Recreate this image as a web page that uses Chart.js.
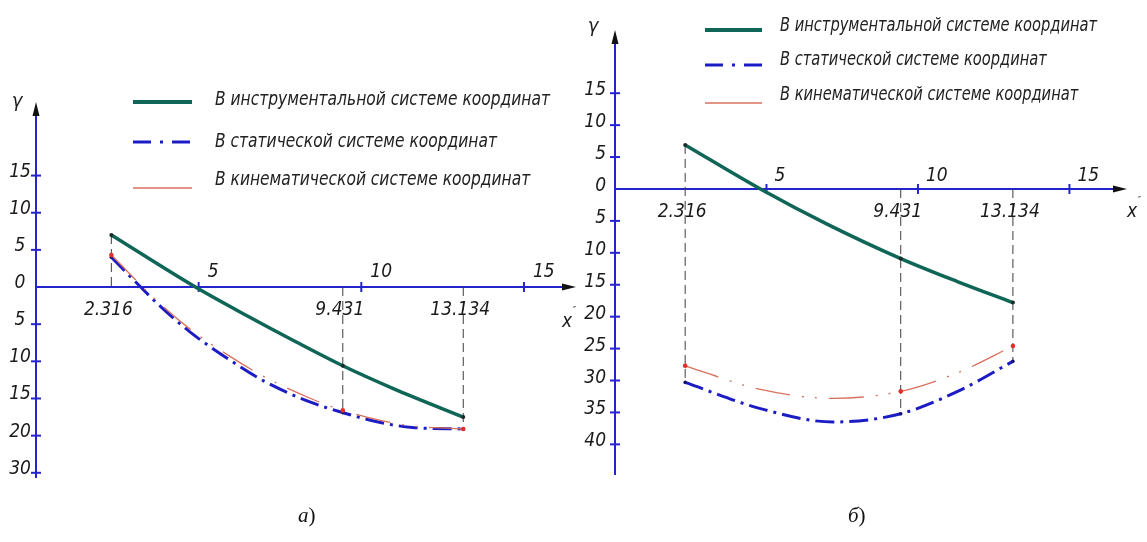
<!DOCTYPE html>
<html><head><meta charset="utf-8">
<script src="https://cdn.jsdelivr.net/npm/chart.js@4.4.1/dist/chart.umd.min.js"></script>
<style>
html,body{margin:0;padding:0;background:#fff;}
body{width:1147px;height:542px;position:relative;overflow:hidden;}
canvas{position:absolute;top:0;}
#cA{left:0;} #cB{left:575px;}
.cap{position:absolute;top:503px;font-family:"Liberation Serif","Times New Roman",serif;font-size:21px;color:#111;}
.cap i{font-style:italic;}
</style></head><body>
<canvas id="cA" width="580" height="542"></canvas>
<canvas id="cB" width="572" height="542"></canvas>
<div class="cap" style="left:298px"><i>а</i>)</div>
<div class="cap" style="left:848px"><i>б</i>)</div>
<script>
// ---- data ----
const seriesNames = ['В инструментальной системе координат', 'В статической системе координат', 'В кинематической системе координат'];
const markX = [2.316, 9.431, 13.134];
const markLabels = ['2.316', '9.431', '13.134'];
const xTicks = [5, 10, 15];
const xTickLabels = ['5', '10', '15'];

// panel а
const aYTicks = [15, 10, 5, 0, -5, -10, -15, -20, -25];
const aYTickLabels = ['15', '10', '5', '0', '5', '10', '15', '20', '30'];
const aInstrX = [2.316, 4.9, 6.5, 8.0, 9.431, 11.0, 13.134];
const aInstrY = [7.0, 0, -3.9, -7.4, -10.6, -13.7, -17.5];
const aStatX = [2.316, 3.8, 4.72, 5.95, 7.07, 8.5, 9.431, 10.55, 11.57, 13.134];
const aStatY = [4.0, -2.5, -6.0, -9.8, -12.8, -15.6, -16.9, -18.2, -18.9, -19.1];
const aKinX = [2.316, 3.8, 4.72, 5.95, 7.07, 8.5, 9.431, 10.55, 11.57, 13.134];
const aKinY = [4.3, -2.2, -5.6, -9.3, -12.2, -15.1, -16.6, -17.9, -18.7, -19.1];

// panel б
const bYTicks = [15, 10, 5, 0, -5, -10, -15, -20, -25, -30, -35, -40];
const bYTickLabels = ['15', '10', '5', '0', '5', '10', '15', '20', '25', '30', '35', '40'];
const bInstrX = [2.316, 4.8, 7.0, 9.431, 11.3, 13.134];
const bInstrY = [6.9, 0, -5.5, -10.9, -14.5, -17.8];
const bStatX = [2.316, 4.8, 7.2, 9.431, 11.4, 13.134];
const bStatY = [-30.3, -34.4, -36.5, -35.2, -31.5, -27.0];
const bKinX = [2.316, 4.8, 7.2, 9.431, 11.4, 13.134];
const bKinY = [-27.7, -31.4, -32.8, -31.7, -28.6, -24.6];

// ---- styles ----
const AXIS = '#2424cf';
const GREEN = '#0f6656';
const BLUE = '#1c1cc4';
const RED = '#d8705e';
const FONT = '"Liberation Sans Narrow","DejaVu Sans Condensed","Liberation Sans",sans-serif';

function pts(xs, ys) { return xs.map((x, i) => ({x: x, y: ys[i]})); }
function isMark(c) { return c.raw && markX.indexOf(c.raw.x) >= 0; }

function buildDatasets(p) {
  const series = [[p.instrX, p.instrY], [p.statX, p.statY], [p.kinX, p.kinY]];
  const guides = markX.map(mx => {
    const vals = [0];
    series.forEach(([xs, ys]) => { const i = xs.indexOf(mx); if (i >= 0) vals.push(ys[i]); });
    return {data: [{x: mx, y: Math.max(...vals)}, {x: mx, y: Math.min(...vals)}],
      borderColor: '#3c3c3c', borderWidth: 1, borderDash: [9, 5], pointRadius: 0, showLine: true, order: 10};
  });
  return guides.concat([
    {data: pts(p.instrX, p.instrY), borderColor: GREEN, borderWidth: 3.5, showLine: true,
     cubicInterpolationMode: 'monotone', pointRadius: c => isMark(c) ? 2 : 0,
     pointBackgroundColor: '#1b2b26', pointBorderWidth: 0, order: 3},
    {data: pts(p.statX, p.statY), borderColor: BLUE, borderWidth: 3, borderDash: [19, 6, 3, 6], showLine: true,
     cubicInterpolationMode: 'monotone', pointRadius: c => isMark(c) ? 1.8 : 0,
     pointBackgroundColor: '#14146e', pointBorderWidth: 0, order: 2},
    {data: pts(p.kinX, p.kinY), borderColor: RED, borderWidth: 1.3, borderDash: [35, 12, 2, 11, 2, 12], showLine: true,
     cubicInterpolationMode: 'monotone', pointRadius: c => isMark(c) ? 2.3 : 0,
     pointBackgroundColor: '#e0302a', pointBorderWidth: 0, order: 1}
  ]);
}

function drawLegend(ctx, L) {
  ctx.save();
  ctx.lineCap = 'butt';
  ctx.strokeStyle = GREEN; ctx.lineWidth = 4; ctx.setLineDash([]);
  ctx.beginPath(); ctx.moveTo(L.x0, L.ly[0]); ctx.lineTo(L.x1, L.ly[0]); ctx.stroke();
  ctx.strokeStyle = BLUE; ctx.lineWidth = 3; ctx.setLineDash([18, 9, 3, 9]);
  ctx.beginPath(); ctx.moveTo(L.x0, L.ly[1]); ctx.lineTo(L.x1, L.ly[1]); ctx.stroke();
  ctx.strokeStyle = RED; ctx.lineWidth = 1.3; ctx.setLineDash([]);
  ctx.beginPath(); ctx.moveTo(L.x0, L.ly[2]); ctx.lineTo(L.x1, L.ly[2]); ctx.stroke();
  ctx.fillStyle = '#222';
  ctx.font = 'italic ' + L.size + 'px ' + FONT;
  ctx.textAlign = 'left'; ctx.textBaseline = 'alphabetic';
  const w0 = ctx.measureText(seriesNames[0]).width;
  const k = L.w / w0;
  seriesNames.forEach((t, i) => {
    ctx.save();
    ctx.translate(L.tx, L.tb[i]);
    ctx.scale(k, 1);
    ctx.fillText(t, 0, 0);
    ctx.restore();
  });
  ctx.restore();
}

function axisPlugin(cfg) {
  return {
    id: 'axes' + cfg.id,
    beforeDatasetsDraw(chart) {
      const ctx = chart.ctx, x = chart.scales.x, y = chart.scales.y, a = chart.chartArea;
      const x0 = x.getPixelForValue(0), y0 = y.getPixelForValue(0);
      ctx.save();
      ctx.strokeStyle = AXIS; ctx.lineWidth = 2;
      ctx.beginPath(); ctx.moveTo(x0, a.bottom); ctx.lineTo(x0, a.top + 8); ctx.stroke();
      ctx.beginPath(); ctx.moveTo(x0, y0); ctx.lineTo(a.right - 8, y0); ctx.stroke();
      cfg.yTicks.forEach(v => { if (v === 0) return; const py = y.getPixelForValue(v);
        ctx.beginPath(); ctx.moveTo(x0 - 5, py); ctx.lineTo(x0 + 5, py); ctx.stroke(); });
      xTicks.forEach(v => { const px = x.getPixelForValue(v);
        ctx.beginPath(); ctx.moveTo(px, y0 - 5); ctx.lineTo(px, y0 + 5); ctx.stroke(); });
      ctx.fillStyle = '#111';
      ctx.beginPath(); ctx.moveTo(x0, a.top); ctx.lineTo(x0 - 3.5, a.top + 14); ctx.lineTo(x0 + 3.5, a.top + 14); ctx.closePath(); ctx.fill();
      ctx.beginPath(); ctx.moveTo(a.right, y0); ctx.lineTo(a.right - 14, y0 - 3.5); ctx.lineTo(a.right - 14, y0 + 3.5); ctx.closePath(); ctx.fill();
      ctx.restore();
    },
    afterDraw(chart) {
      const ctx = chart.ctx, x = chart.scales.x, y = chart.scales.y;
      const x0 = x.getPixelForValue(0), y0 = y.getPixelForValue(0);
      ctx.save();
      ctx.fillStyle = '#1a1a1a';
      ctx.font = 'italic ' + cfg.tickSize + 'px ' + FONT;
      ctx.textBaseline = 'alphabetic';
      ctx.textAlign = cfg.yAlign;
      cfg.yTicks.forEach((v, i) => {
        ctx.fillText(cfg.yTickLabels[i], x0 + cfg.yLabelDx, y.getPixelForValue(v) + cfg.yLabelDy);
      });
      ctx.textAlign = 'left';
      xTicks.forEach((v, i) => ctx.fillText(xTickLabels[i], x.getPixelForValue(v) + cfg.xLabelDx, y0 - cfg.xLabelUp));
      ctx.textAlign = 'center';
      markX.forEach((v, i) => ctx.fillText(markLabels[i], x.getPixelForValue(v) - 3, y0 + 28));
      ctx.font = 'italic ' + (cfg.tickSize + 1) + 'px "DejaVu Sans Condensed","DejaVu Sans",sans-serif';
      ctx.textAlign = 'center';
      ctx.fillText('γ', cfg.gx, cfg.gy);
      ctx.textAlign = 'left';
      ctx.font = 'italic ' + cfg.tickSize + 'px ' + FONT;
      ctx.fillText('x', cfg.xnx, cfg.xny);
      ctx.font = 'italic 9px ' + FONT;
      ctx.fillText('″', cfg.xnx + 11, cfg.xny - 14);
      ctx.restore();
      drawLegend(ctx, cfg.legend);
    }
  };
}

function makeChart(id, p, cfg) {
  return new Chart(document.getElementById(id), {
    type: 'scatter',
    data: {datasets: buildDatasets(p)},
    options: {
      responsive: false, animation: false, events: [],
      layout: {padding: cfg.padding},
      scales: {
        x: {type: 'linear', display: false, min: 0, max: cfg.xMax},
        y: {type: 'linear', display: false, min: cfg.yMin, max: cfg.yMax}
      },
      plugins: {legend: {display: false}, tooltip: {enabled: false}},
      elements: {line: {fill: false}}
    },
    plugins: [axisPlugin(cfg)]
  });
}

makeChart('cA', {instrX: aInstrX, instrY: aInstrY, statX: aStatX, statY: aStatY, kinX: aKinX, kinY: aKinY}, {
  id: 'A', padding: {left: 36, right: 3, top: 102, bottom: 64},
  xMax: 16.6, yMin: -25.7, yMax: 24.9,
  yTicks: aYTicks, yTickLabels: aYTickLabels,
  tickSize: 19, yAlign: 'center', yLabelDx: -16, yLabelDy: 1,
  xLabelDx: 9, xLabelUp: 10,
  gx: 17, gy: 107, xnx: 562, xny: 327,
  legend: {x0: 133, x1: 192, ly: [102, 142, 188], tx: 215, tb: [105, 147, 185], w: 335, size: 20}
});

makeChart('cB', {instrX: bInstrX, instrY: bInstrY, statX: bStatX, statY: bStatY, kinX: bKinX, kinY: bKinY}, {
  id: 'B', padding: {left: 40, right: 20, top: 30, bottom: 67},
  xMax: 16.9, yMin: -44.8, yMax: 24.9,
  yTicks: bYTicks, yTickLabels: bYTickLabels,
  tickSize: 19, yAlign: 'right', yLabelDx: -9, yLabelDy: 2,
  xLabelDx: 8, xLabelUp: 8,
  gx: 18, gy: 32, xnx: 552, xny: 217,
  legend: {x0: 130, x1: 187, ly: [30, 65, 103], tx: 205, tb: [31, 65, 100], w: 317, size: 19}
});
</script>
</body></html>
